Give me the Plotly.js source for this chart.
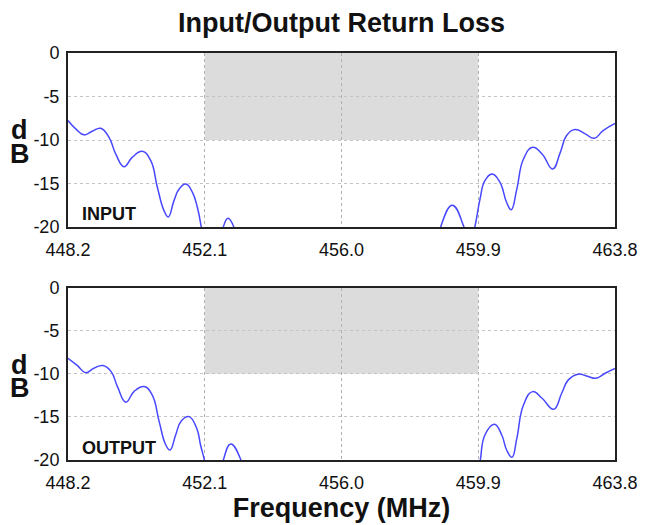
<!DOCTYPE html>
<html>
<head>
<meta charset="utf-8">
<script src="https://cdn.plot.ly/plotly-3.0.1.min.js"></script>
<style>html,body{margin:0;padding:0;background:#fff;}#chart{width:648px;height:525px;}</style>
</head>
<body>
<div id="chart"></div>
<script>
// Input return loss (MHz, dB); null breaks where the curve leaves the plot
var freqIn = [448.2, 448.42, 448.66, 448.89, 449.13, 449.37, 449.56, 449.8, 450.03, 450.32, 450.56, 450.75, 450.94, 451.06, 451.22, 451.37, 451.56, 451.75, 451.89, 452.0, 452.1, null,
              452.52, 452.63, 452.76, 452.93, 453.04, null,
              458.72, 458.84, 459.16, 459.48, 459.64, 459.81, 459.95, 460.09, 460.3, 460.52, 460.71, 460.84, 461.0, 461.19, 461.45, 461.72, 462.02, 462.24, 462.42, 462.66, 462.95, 463.21, 463.46, 463.8];
var rlIn   = [-7.76, -8.72, -9.41, -9.0, -8.65, -9.69, -11.6, -13.07, -12.0, -11.3, -12.38, -15.46, -18.14, -18.84, -17.0, -15.64, -15.07, -16.03, -17.76, -20, -22.5, null,
              -22.5, -20, -18.99, -20, -22.5, null,
              -22.5, -19.87, -17.49, -19.87, -22.5, -19.87, -16.8, -14.68, -13.91, -14.88, -17.18, -18.03, -15.64, -12.18, -10.84, -11.6, -13.33, -11.42, -9.49, -8.8, -9.3, -9.8, -8.92, -8.1];

// Output return loss
var freqOut = [448.2, 448.47, 448.7, 448.94, 449.2, 449.43, 449.61, 449.85, 450.08, 450.37, 450.6, 450.8, 450.99, 451.11, 451.27, 451.43, 451.65, 451.87, 451.98, 452.1, 452.2, null,
               452.5, 452.63, 452.84, 453.13, 453.25, null,
               459.82, 459.95, 460.09, 460.36, 460.57, 460.71, 460.86, 461.0, 461.19, 461.45, 461.72, 462.05, 462.28, 462.47, 462.74, 462.99, 463.26, 463.52, 463.8];
var rlOut   = [-8.2, -9.05, -9.87, -9.36, -9.05, -9.75, -11.49, -13.3, -12.07, -11.49, -12.45, -15.55, -18.26, -18.84, -17.1, -15.47, -14.97, -16.32, -18.26, -20.2, -22.5, null,
               -22.5, -20, -18.14, -20, -22.5, null,
               -22.5, -20.2, -17.1, -15.86, -17.1, -18.84, -19.69, -17.49, -13.62, -12.07, -12.84, -14.12, -12.26, -10.71, -10.05, -10.25, -10.52, -9.94, -9.38];

var xTickVals = [448.2, 452.1, 456.0, 459.9, 463.8];
var xTickText = ["448.2", "452.1", "456.0", "459.9", "463.8"];
var yTickVals = [0, -5, -10, -15, -20];
var yTickText = ["0", "-5", "-10", "-15", "-20"];
var passband = [452.1, 459.9];   // shaded band (MHz)
var passLimit = [-10, 0];        // shaded band (dB)

var FONT = "Liberation Sans, Arial, Helvetica, sans-serif";
var lineStyle = {color: "#4848ff", width: 1.5, shape: "spline", smoothing: 1.3};

var traces = [
  {x: freqIn, y: rlIn, type: "scatter", mode: "lines", line: lineStyle, xaxis: "x", yaxis: "y", connectgaps: false, hoverinfo: "skip"},
  {x: freqOut, y: rlOut, type: "scatter", mode: "lines", line: lineStyle, xaxis: "x2", yaxis: "y2", connectgaps: false, hoverinfo: "skip"}
];

function xAx(anchor, extra) {
  var a = {
    anchor: anchor, domain: [0, 1], range: [448.2, 463.8],
    tickmode: "array", tickvals: xTickVals, ticktext: xTickText,
    tickfont: {family: FONT, size: 18, color: "#111"},
    ticks: "outside", ticklen: 5, tickcolor: "rgba(0,0,0,0)",
    showline: true, mirror: true, linecolor: "#222", linewidth: 2,
    showgrid: true, gridcolor: "#b0b0b0", griddash: "dot", gridwidth: 1,
    zeroline: false, fixedrange: true
  };
  for (var k in extra) a[k] = extra[k];
  return a;
}
function yAx(anchor, domain) {
  return {
    anchor: anchor, domain: domain, range: [-20, 0],
    tickmode: "array", tickvals: yTickVals, ticktext: yTickText,
    tickfont: {family: FONT, size: 18, color: "#111"},
    ticks: "outside", ticklen: 3, tickcolor: "rgba(0,0,0,0)",
    showline: true, mirror: true, linecolor: "#222", linewidth: 2,
    showgrid: true, gridcolor: "#c4c4c4", griddash: "dot", gridwidth: 1,
    zeroline: false, fixedrange: true
  };
}

function band(xr, yr) {
  return {type: "rect", xref: xr, yref: yr, x0: passband[0], x1: passband[1], y0: passLimit[0], y1: passLimit[1],
          fillcolor: "#dcdcdc", line: {width: 0}, layer: "below"};
}

var ann = [];
function label(text, x, y, yr, size, xanchor, xref) {
  ann.push({text: text, x: x, y: y, xref: xref || "paper", yref: yr, showarrow: false,
            xanchor: xanchor || "center", yanchor: "middle",
            font: {family: FONT, size: size, color: "#111", weight: "bold"}});
}
label("<b>d</b>", -0.088, -8.9, "y", 27);
label("<b>B</b>", -0.088, -11.6, "y", 27);
label("<b>d</b>", -0.088, -9.0, "y2", 27);
label("<b>B</b>", -0.088, -11.7, "y2", 27);
label("<b>INPUT</b>", 448.54, -18.5, "y", 18, "left", "x");
label("<b>OUTPUT</b>", 448.54, -18.6, "y2", 18, "left", "x");

var layout = {
  width: 648, height: 525,
  margin: {l: 68, r: 33, t: 53, b: 65},
  paper_bgcolor: "#fff", plot_bgcolor: "rgba(0,0,0,0)",
  showlegend: false,
  title: {text: "<b>Input/Output Return Loss</b>", x: 0.5, xref: "paper", y: 0.958, yref: "container", yanchor: "middle",
          font: {family: FONT, size: 27, color: "#111"}},
  xaxis: xAx("y", {}),
  yaxis: yAx("x", [0.5725, 1]),
  xaxis2: xAx("y2", {title: {text: "<b>Frequency (MHz)</b>", standoff: 5, font: {family: FONT, size: 27, color: "#111"}}}),
  yaxis2: yAx("x2", [0, 0.4238]),
  shapes: [band("x", "y"), band("x2", "y2")],
  annotations: ann
};

Plotly.newPlot("chart", traces, layout, {staticPlot: true, displayModeBar: false});
</script>
</body>
</html>
